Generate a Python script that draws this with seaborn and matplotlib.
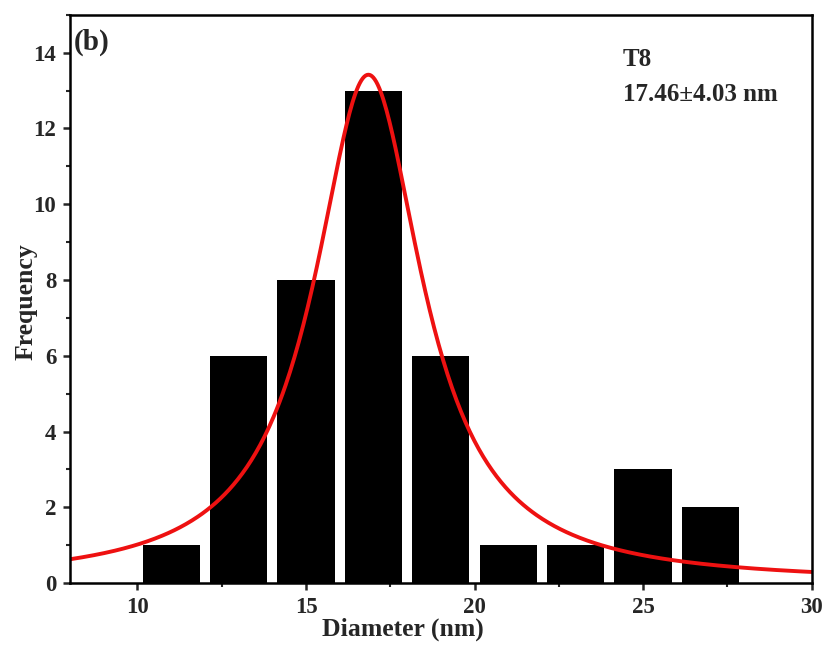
import numpy as np
import pandas as pd
import matplotlib
matplotlib.use("Agg")
import matplotlib.pyplot as plt
import seaborn as sns
from matplotlib.ticker import MultipleLocator

# histogram
bin_centers = [11, 13, 15, 17, 19, 21, 23, 25, 27]
counts = [1, 6, 8, 13, 6, 1, 1, 3, 2]
bin_edges = [10, 12, 14, 16, 18, 20, 22, 24, 26, 28]

# Lorentz fit parameters (estimated from the red curve)
fit_xc = 16.85
fit_height = 13.42
fit_halfwidth = 1.96

sns.set_theme(style="ticks")
plt.rcParams['font.family'] = ['Liberation Serif', 'DejaVu Serif']
plt.rcParams['font.weight'] = 'bold'

hist_df = pd.DataFrame({'Diameter': bin_centers, 'Count': counts})
x_fit = np.linspace(8, 30, 500)
fit_df = pd.DataFrame({'Diameter': x_fit,
                       'Fit': fit_height / (1 + ((x_fit - fit_xc) / fit_halfwidth) ** 2)})

fig = plt.figure(figsize=(8.24, 6.46), dpi=100)
ax = fig.add_axes([0.085, 0.0975, 0.9, 0.8795])

sns.histplot(data=hist_df, x='Diameter', weights='Count', bins=bin_edges,
             shrink=0.85, color='black', edgecolor='black', alpha=1, linewidth=0, ax=ax)
sns.lineplot(data=fit_df, x='Diameter', y='Fit', color='#ee1111', linewidth=2.8, ax=ax)

ax.set_xlim(8, 30)
ax.set_ylim(0, 15)
ax.xaxis.set_major_locator(MultipleLocator(5))
ax.xaxis.set_minor_locator(MultipleLocator(2.5))
ax.yaxis.set_major_locator(MultipleLocator(2))
ax.yaxis.set_minor_locator(MultipleLocator(1))
ax.tick_params(which='major', direction='out', length=5, width=1.8, labelsize=16.5, pad=5)
ax.tick_params(which='minor', direction='out', length=3, width=1.5)
for lab in ax.get_xticklabels() + ax.get_yticklabels():
    lab.set_fontweight('bold')
for sp in ax.spines.values():
    sp.set_visible(True)
    sp.set_linewidth(1.8)
    sp.set_color('black')

ax.set_xlabel('Diameter (nm)', fontsize=18.5, fontweight='bold', labelpad=0, x=0.449)
ax.set_ylabel('Frequency', fontsize=18.5, fontweight='bold', labelpad=-3, y=0.495)

ax.text(0.005, 0.975, '(b)', transform=ax.transAxes, fontsize=21, fontweight='bold', va='top', ha='left')
ax.text(0.745, 0.942, 'T8\n17.46\u00b14.03 nm', transform=ax.transAxes, fontsize=18,
        fontweight='bold', va='top', ha='left', linespacing=1.68)

fig.savefig('out.png', dpi=100)
